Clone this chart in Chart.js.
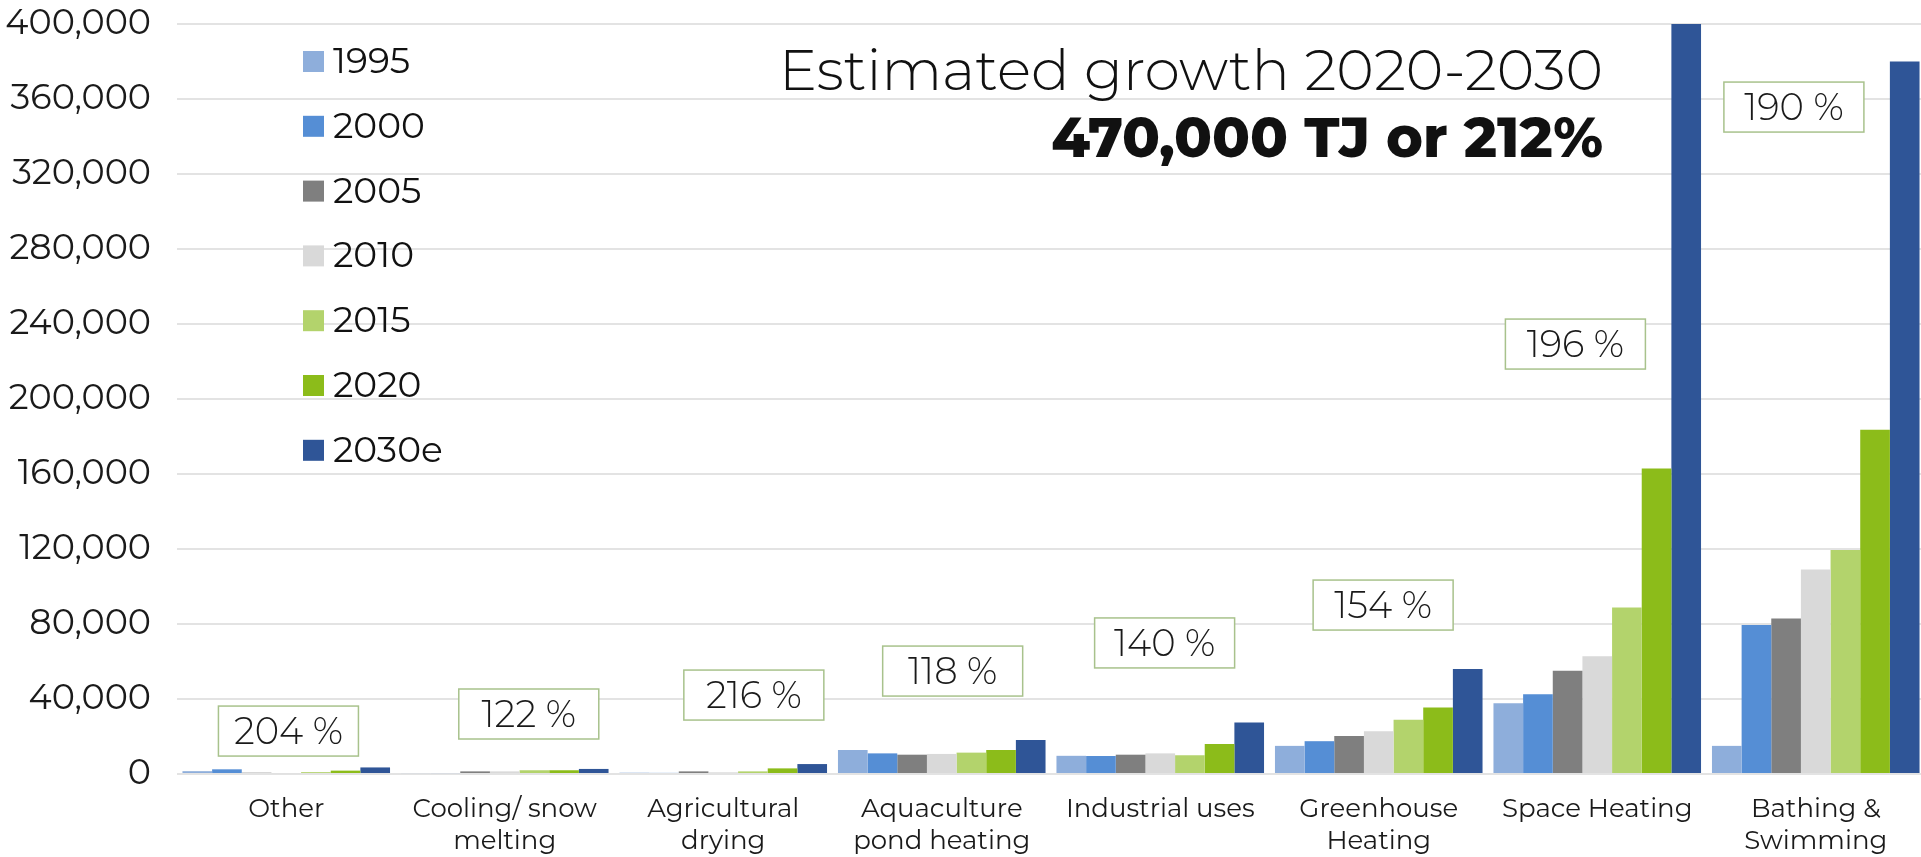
<!DOCTYPE html>
<html>
  <head>
    <meta charset="UTF-8">
    <title>Geothermal direct use by category</title>
    <script src="https://cdn.jsdelivr.net/npm/chart.js"></script>
    <style>
      html, body { margin: 0; padding: 0; background: #fff; overflow: hidden; }
      #wrap { width: 1925px; height: 857px; }
    </style>
  </head>
  <body>
    <div id="wrap"><canvas id="chart" width="1925" height="857"></canvas></div>

    <script>
      // データ
      var categories = [
        ['Other'], ['Cooling/ snow', 'melting'], ['Agricultural', 'drying'],
        ['Aquaculture', 'pond heating'], ['Industrial uses'], ['Greenhouse', 'Heating'],
        ['Space Heating'], ['Bathing &', 'Swimming']
      ];
      var years = ['1995', '2000', '2005', '2010', '2015', '2020', '2030e'];
      var v1995  = [1500,  500,  700, 12800,  9700, 15000,  37800,  15000];
      var v2000  = [2500,  500,  600, 11000,  9600, 17500,  42600,  79500];
      var v2005  = [ 700, 1400, 1400, 10300, 10300, 20300,  55100,  82900];
      var v2010  = [ 400, 1400,  900, 10700, 11000, 22800,  62800, 109100];
      var v2015  = [1000, 2000, 1400, 11400, 10000, 28900,  88800, 119500];
      var v2020  = [1800, 2000, 3000, 12800, 16000, 35500, 163000, 183600];
      var v2030e = [3500, 2700, 5300, 18200, 27500, 56000, 400000, 380000];
      var growthLabels = ['204 %', '122 %', '216 %', '118 %', '140 %', '154 %', '196 %', '190 %'];
      var titleLine1 = 'Estimated growth 2020-2030';
      var titleLine2 = '470,000 TJ or 212%';
      var yMax = 400000;
      var yStep = 40000;

      // 見た目の設定
      var colors = ['#8eaedb', '#558ed5', '#7f7f7f', '#d9d9d9', '#b3d36c', '#8cbc1a', '#2f5597'];
      var seriesValues = [v1995, v2000, v2005, v2010, v2015, v2020, v2030e];
      // 注記ボックスの位置 (カテゴリ単位のずれ, y値)
      var boxDx = [0.01, 0.11, 0.14, 0.05, 0.02, 0.02, -0.10, -0.10];
      var boxY  = [22900, 32000, 42100, 54900, 69900, 90100, 229300, 355700];
      var FONT = "Montserrat, 'Noto Sans', sans-serif";

      var datasets = [];
      for (var i = 0; i < years.length; i++) {
        datasets.push({
          label: years[i],
          data: seriesValues[i],
          backgroundColor: colors[i],
          borderWidth: 0,
          barPercentage: 1,
          categoryPercentage: 0.95
        });
      }

      // 凡例・タイトル・注記を描く
      var extras = {
        id: 'extras',
        afterDatasetsDraw: function(chart) {
          var ctx = chart.ctx;
          var xs = chart.scales.x, ys = chart.scales.y;
          var cw = xs.getPixelForValue(1) - xs.getPixelForValue(0);
          ctx.save();
          // 注記ボックス
          ctx.font = '300 37px ' + FONT;
          ctx.textAlign = 'center';
          ctx.textBaseline = 'middle';
          for (var i = 0; i < growthLabels.length; i++) {
            var cx = xs.getPixelForValue(i) + boxDx[i] * cw;
            var cy = ys.getPixelForValue(boxY[i]);
            ctx.fillStyle = '#ffffff';
            ctx.fillRect(cx - 70, cy - 25, 140, 50);
            ctx.strokeStyle = '#a8c28c';
            ctx.lineWidth = 1.5;
            ctx.strokeRect(cx - 70, cy - 25, 140, 50);
            ctx.fillStyle = '#1a1a1a';
            ctx.fillText(growthLabels[i], cx, cy + 2);
          }
          // 凡例
          ctx.textAlign = 'left';
          ctx.font = '36px ' + FONT;
          for (var j = 0; j < chart.data.datasets.length; j++) {
            var ds = chart.data.datasets[j];
            var yc = 61.5 + j * 64.8;
            ctx.fillStyle = ds.backgroundColor;
            ctx.fillRect(303, yc - 10.5, 21, 21);
            ctx.fillStyle = '#111';
            ctx.fillText(ds.label, 333, yc + 1);
          }
          // タイトル
          ctx.textAlign = 'right';
          ctx.textBaseline = 'alphabetic';
          ctx.fillStyle = '#111';
          ctx.font = '300 57px ' + FONT;
          ctx.fillText(titleLine1, 1603, 90);
          ctx.font = '800 55.5px ' + FONT;
          ctx.fillText(titleLine2, 1603, 157);
          ctx.restore();
        }
      };

      var ctx = document.getElementById('chart').getContext('2d');
      var chart = new Chart(ctx, {
        type: 'bar',
        data: { labels: categories, datasets: datasets },
        options: {
          responsive: false,
          animation: false,
          devicePixelRatio: 1,
          layout: { padding: { top: 24, right: 0, left: 0, bottom: 0 } },
          plugins: { legend: { display: false }, tooltip: { enabled: false } },
          scales: {
            x: {
              grid: { display: false, drawTicks: false },
              border: { display: false },
              ticks: {
                color: '#1a1a1a',
                font: { family: FONT, size: 26, lineHeight: 1.23 },
                padding: 19,
                maxRotation: 0,
                autoSkip: false
              },
              afterFit: function(s) { s.height = 83; s.paddingLeft = 0; s.paddingRight = 0; }
            },
            y: {
              min: 0,
              max: yMax,
              grid: { color: '#e3e3e3', lineWidth: 2, drawTicks: false },
              border: { display: false },
              ticks: {
                stepSize: yStep,
                color: '#1a1a1a',
                font: { family: FONT, size: 35 },
                padding: 26,
                callback: function(v) { return v.toLocaleString('en-US'); }
              },
              afterFit: function(s) { s.width = 177; s.paddingTop = 0; s.paddingBottom = 0; }
            }
          }
        },
        plugins: [extras]
      });
    </script>
  </body>
</html>
